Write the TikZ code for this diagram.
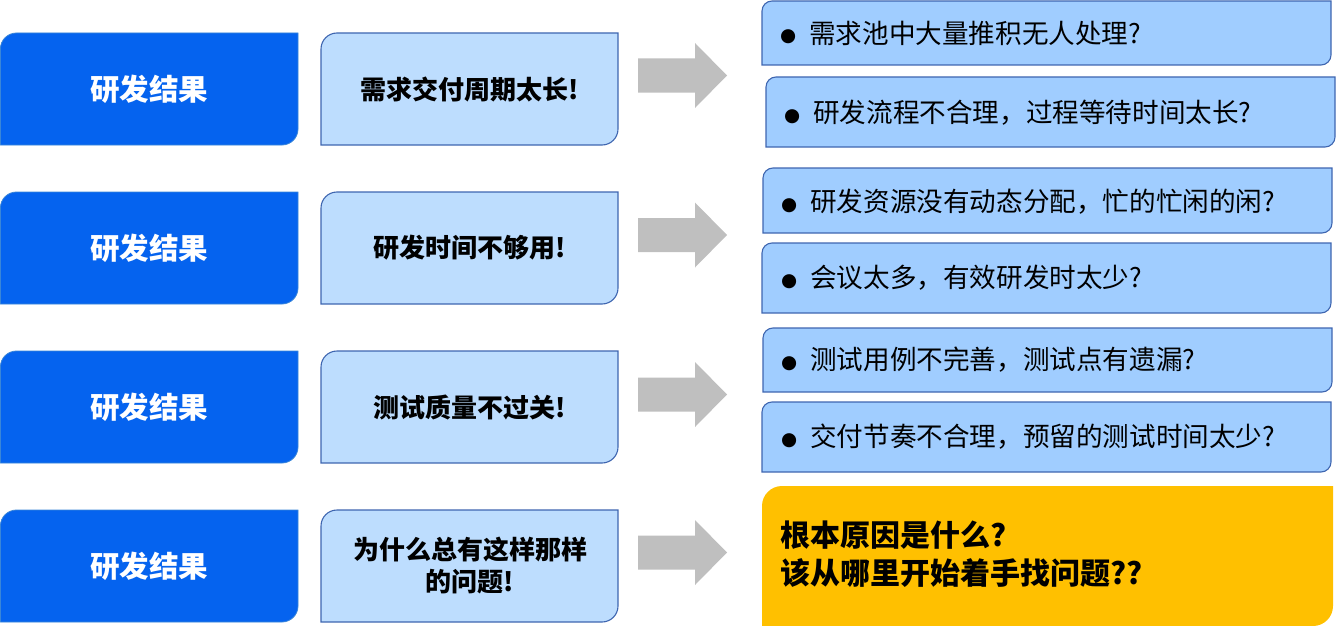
\documentclass[tikz,border=0pt]{standalone}
\usepackage{fontspec}
\setmainfont{Noto Sans CJK SC}
\newfontfamily\djv{DejaVu Sans}
\definecolor{lblue}{HTML}{0563EF}
\definecolor{lbord}{HTML}{3A86D8}
\definecolor{mfill}{HTML}{BDDDFE}
\definecolor{bord}{HTML}{3F66B0}
\definecolor{rfill}{HTML}{A0CDFF}
\definecolor{yfill}{HTML}{FFC000}
\definecolor{agray}{HTML}{BFBFBF}
\newcommand{\tlbrbox}[6]{\path[#1] (#2,-#5) -- (#2,-#3-#6) arc[start angle=180,end angle=90,radius=#6] -- (#4,-#3) -- (#4,-#5+#6) arc[start angle=0,end angle=-90,radius=#6] -- cycle;}
\newcommand{\bul}{\makebox[29pt][l]{\raisebox{1.5pt}{\djv\fontsize{18.5}{18.5}\selectfont ●}}}
\tikzset{
  leftbox/.style={fill=lblue,draw=lbord,line width=0.8pt},
  midbox/.style={fill=mfill,draw=bord,line width=1.1pt},
  rightbox/.style={fill=rfill,draw=bord,line width=1.1pt},
  yelbox/.style={fill=yfill},
  lefttext/.style={text=white,font=\fontsize{29.5}{32}\selectfont\bfseries,inner sep=0pt},
  midtext/.style={text=black,font=\fontsize{26}{32}\selectfont\bfseries,inner sep=0pt,align=center},
  righttext/.style={text=black,font=\fontsize{26.6}{30}\selectfont,inner sep=0pt,anchor=west},
  yeltext/.style={text=black,font=\fontsize{30}{38}\selectfont\bfseries,inner sep=0pt,anchor=west,align=left},
  blockarrow/.style={fill=agray}
}
\newcommand{\blockarr}[2]{\fill[blockarrow] (638,-#2+17) -- (695,-#2+17) -- (695,-#2+32.5) -- (727,-#2) -- (695,-#2-32.5) -- (695,-#2-17) -- (638,-#2-17) -- cycle; \coordinate (#1) at (682,-#2);}
\begin{document}
\begin{tikzpicture}[x=1pt,y=1pt]
\useasboundingbox (0,0) rectangle (1336,-626);
% left boxes
\tlbrbox{leftbox}{0.4}{33}{298}{145}{16}
\tlbrbox{leftbox}{0.4}{192}{298}{304}{16}
\tlbrbox{leftbox}{0.4}{351}{298}{463}{16}
\tlbrbox{leftbox}{0.4}{510}{298}{622}{16}
\node[lefttext] (L1) at (149,-89) {研发结果};
\node[lefttext] (L2) at (149,-248) {研发结果};
\node[lefttext] (L3) at (149,-407) {研发结果};
\node[lefttext] (L4) at (149,-566) {研发结果};
% middle boxes
\tlbrbox{midbox}{321}{33}{618}{145}{16}
\tlbrbox{midbox}{321}{192}{618}{304}{16}
\tlbrbox{midbox}{321}{351}{618}{463}{16}
\tlbrbox{midbox}{321}{510}{618}{622}{16}
\node[midtext] (M1) at (470,-89) {需求交付周期太长!};
\node[midtext] (M2) at (470,-248) {研发时间不够用!};
\node[midtext] (M3) at (470,-407) {测试质量不过关!};
\node[midtext] (M4) at (470,-566) {为什么总有这样那样\\的问题!};
% arrows
\blockarr{A1}{75.5}
\blockarr{A2}{235}
\blockarr{A3}{394.5}
\blockarr{A4}{552.5}
% right boxes
\tlbrbox{rightbox}{762}{1}{1331}{65}{10}
\tlbrbox{rightbox}{766}{77}{1335}{147}{10}
\tlbrbox{rightbox}{763}{168}{1332}{233}{10}
\tlbrbox{rightbox}{762}{243}{1331}{313}{10}
\tlbrbox{rightbox}{763}{328}{1332}{392}{10}
\tlbrbox{rightbox}{762}{402}{1331}{472}{10}
\tlbrbox{yelbox}{762}{486}{1333}{626}{20}
\node[righttext] (R1a) at (780,-33) {\bul 需求池中大量推积无人处理?};
\node[righttext] (R1b) at (784,-113) {\bul 研发流程不合理，过程等待时间太长?};
\node[righttext] (R2a) at (781,-202) {\bul 研发资源没有动态分配，忙的忙闲的闲?};
\node[righttext] (R2b) at (781,-278) {\bul 会议太多，有效研发时太少?};
\node[righttext] (R3a) at (781,-360) {\bul 测试用例不完善，测试点有遗漏?};
\node[righttext] (R3b) at (781,-437) {\bul 交付节奏不合理，预留的测试时间太少?};
\node[yeltext] (Y) at (780,-554) {根本原因是什么?\\该从哪里开始着手找问题??};
\end{tikzpicture}
\end{document}
